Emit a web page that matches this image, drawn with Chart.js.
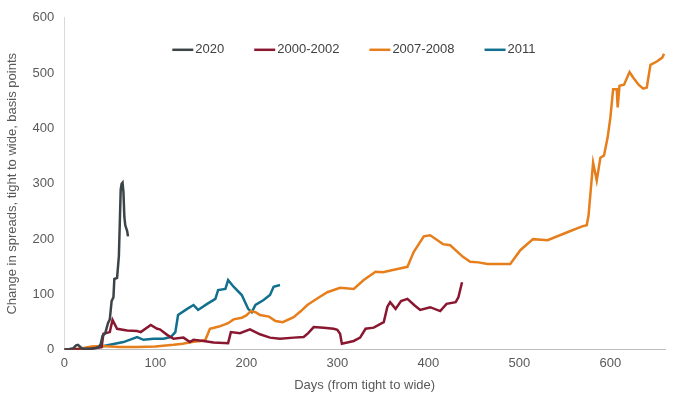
<!DOCTYPE html>
<html>
<head>
<meta charset="utf-8">
<script src="https://cdn.jsdelivr.net/npm/chart.js@4"></script>
<style>
  html, body { margin: 0; padding: 0; background: #fff; }
  #wrap { width: 680px; height: 397px; }
</style>
</head>
<body>
<div id="wrap"><canvas id="myChart"></canvas></div>
<script>
var seriesNames = ["2020", "2000-2002", "2007-2008", "2011"];
var seriesColors = ["#3d4448", "#8a1730", "#e67e1c", "#12708e"];

var days2020 = [0, 5, 10, 13, 15, 17, 20, 25, 30, 35, 38, 40, 42, 45, 48, 50, 52, 54, 55, 58, 60, 61, 62, 63, 64, 65, 66, 67, 69, 70];
var spread2020 = [0, 1, 3, 8, 9, 6, 2, 2, 2, 3, 5, 10, 25, 30, 48, 55, 88, 95, 128, 130, 170, 230, 290, 300, 302, 285, 240, 225, 215, 205];

var days2000 = [0, 10, 20, 29, 41, 43, 50, 53, 58, 69, 80, 84, 95, 102, 105, 113, 120, 131, 138, 142, 153, 164, 180, 183, 193, 204, 215, 226, 237, 252, 263, 268, 274, 285, 296, 300, 303, 305, 318, 325, 331, 340, 351, 355, 358, 364, 370, 377, 385, 391, 402, 413, 420, 430, 433, 437];
var spread2000 = [0, 1, 1, 2, 5, 29, 32, 54, 38, 35, 34, 32, 45, 38, 37, 27, 20, 22, 14, 18, 16, 13, 12, 32, 30, 37, 28, 22, 20, 22, 23, 30, 41, 40, 38, 36, 29, 11, 16, 22, 38, 40, 50, 78, 86, 74, 88, 92, 80, 72, 77, 70, 83, 86, 95, 122];

var days2007 = [0, 10, 20, 30, 40, 50, 60, 80, 100, 120, 130, 140, 150, 155, 158, 160, 170, 180, 186, 195, 200, 205, 210, 215, 225, 232, 240, 252, 260, 267, 280, 289, 303, 318, 329, 342, 350, 366, 377, 384, 395, 402, 410, 416, 424, 438, 446, 455, 465, 479, 490, 501, 515, 531, 552, 569, 574, 576, 581, 585, 589, 593, 597, 600, 603, 607, 608, 610, 615, 621, 625, 631, 636, 640, 644, 651, 657, 659];
var spread2007 = [0, 1, 3, 6, 7, 6, 5, 5, 6, 9, 11, 14, 16, 18, 30, 38, 42, 48, 55, 58, 62, 70, 68, 63, 60, 52, 50, 59, 70, 81, 95, 104, 112, 110, 126, 141, 140, 146, 150, 177, 205, 207, 198, 191, 189, 168, 159, 158, 155, 155, 155, 180, 200, 198, 212, 223, 225, 243, 338, 306, 347, 351, 384, 420, 471, 471, 438, 477, 479, 502, 492, 479, 472, 474, 515, 521, 528, 535];

var days2011 = [0, 29, 50, 65, 80, 87, 98, 109, 117, 122, 125, 135, 142, 147, 157, 166, 169, 177, 180, 186, 195, 202, 206, 210, 219, 226, 230, 237];
var spread2011 = [0, 2, 9, 14, 23, 18, 20, 20, 23, 32, 63, 74, 81, 72, 83, 92, 108, 110, 126, 114, 99, 74, 68, 81, 90, 99, 114, 117];

var xTitle = "Days (from tight to wide)";
var yTitle = "Change in spreads, tight to wide, basis points";

function toPoints(xs, ys) {
  return xs.map(function (x, i) { return { x: x, y: ys[i] }; });
}

var allDays = [days2020, days2000, days2007, days2011];
var allSpreads = [spread2020, spread2000, spread2007, spread2011];

var datasets = seriesNames.map(function (name, i) {
  return {
    label: name,
    data: toPoints(allDays[i], allSpreads[i]),
    borderColor: seriesColors[i],
    backgroundColor: seriesColors[i],
    borderWidth: 2.5,
    pointRadius: 0,
    tension: 0
  };
});

// legend drawn inside the plot, one row near the top
var insideLegend = {
  id: "insideLegend",
  afterDraw: function (chart) {
    var ctx = chart.ctx;
    var area = chart.chartArea;
    var x = area.left + 108;
    var y = area.top + 32;
    ctx.save();
    ctx.font = "13px 'Liberation Sans', Arial, sans-serif";
    ctx.textBaseline = "middle";
    ctx.textAlign = "left";
    chart.data.datasets.forEach(function (ds) {
      ctx.strokeStyle = ds.borderColor;
      ctx.lineWidth = 2.5;
      ctx.beginPath();
      ctx.moveTo(x, y);
      ctx.lineTo(x + 21, y);
      ctx.stroke();
      x += 23;
      ctx.fillStyle = "#404040";
      ctx.fillText(ds.label, x, y);
      x += ctx.measureText(ds.label).width + 30;
    });
    ctx.restore();
  }
};

Chart.defaults.font.family = "'Liberation Sans', Arial, sans-serif";
Chart.defaults.font.size = 13;
Chart.defaults.color = "#595959";

new Chart("myChart", {
  type: "line",
  data: { datasets: datasets },
  options: {
    responsive: true,
    maintainAspectRatio: false,
    animation: false,
    layout: { padding: { top: 6, right: 15, left: 1, bottom: 0 } },
    plugins: {
      legend: { display: false },
      tooltip: { enabled: false }
    },
    scales: {
      x: {
        type: "linear",
        min: 0,
        max: 660,
        ticks: {
          stepSize: 100,
          padding: 6,
          callback: function (v) { return v % 100 === 0 ? v : ""; }
        },
        grid: { display: false, drawTicks: false },
        border: { display: true, color: "#bfbfbf", width: 1 },
        title: { display: true, text: xTitle, padding: { top: 0, bottom: 4 } }
      },
      y: {
        min: 0,
        max: 600,
        ticks: { stepSize: 100, padding: 10 },
        grid: { display: false, drawTicks: false },
        border: { display: true, color: "#d9d9d9", width: 1 },
        title: { display: true, text: yTitle, padding: { bottom: 2 } }
      }
    }
  },
  plugins: [insideLegend]
});
</script>
</body>
</html>
